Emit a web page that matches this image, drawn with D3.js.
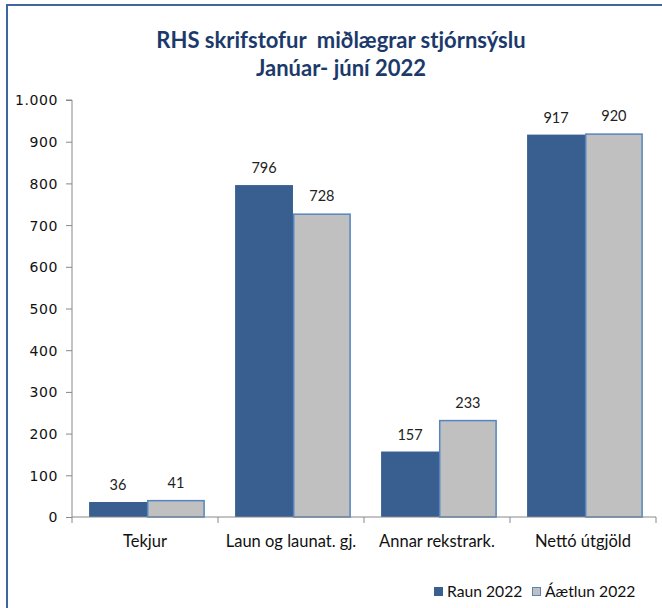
<!DOCTYPE html>
<html><head><meta charset="utf-8">
<script src="https://cdn.jsdelivr.net/npm/d3@7"></script>
<style>body{margin:0;background:#fff;} svg{display:block;}</style>
</head><body>
<svg id="c" width="662" height="608"></svg>
<script>
const categories = ["Tekjur", "Laun og launat. gj.", "Annar rekstrark.", "Nettó útgjöld"];
const seriesNames = ["Raun 2022", "Áætlun 2022"];
const raun = [36, 796, 157, 917];
const aaetlun = [41, 728, 233, 920];
const yTicks = [0, 100, 200, 300, 400, 500, 600, 700, 800, 900, 1000];
const titleLines = ["RHS skrifstofur  miðlægrar stjórnsýslu", "Janúar- júní 2022"];

(function(){
const svg = d3.select("#c");
const colors = {"Raun 2022": "#385f90", "Áætlun 2022": "#c0c0c0"};
const strokes = {"Raun 2022": "#385f90", "Áætlun 2022": "#5585c0"};

// outer border
svg.append("rect").attr("x", 7).attr("y", 5).attr("width", 700).attr("height", 700)
  .attr("fill", "none").attr("stroke", "#3d679c").attr("stroke-width", 2);

// title
svg.append("text").attr("x", 341).attr("y", 48).attr("text-anchor", "middle")
  .attr("font-family", "Lato").attr("font-weight", "bold").attr("font-size", 22)
  .attr("fill", "#1b3a6b").style("white-space", "pre").text(titleLines[0]);
svg.append("text").attr("x", 341).attr("y", 76).attr("text-anchor", "middle")
  .attr("font-family", "Lato").attr("font-weight", "bold").attr("font-size", 22)
  .attr("fill", "#1b3a6b").text(titleLines[1]);

const pl = 72, pr = 656, pt = 100, pb = 517;
const y = d3.scaleLinear().domain([0, 1000]).range([pb, pt]);
const x0 = d3.scaleBand().domain(categories).range([pl, pr]).paddingInner(0).paddingOuter(0);
const bw = x0.bandwidth();
const x1 = d3.scaleBand().domain(seriesNames).range([bw * 0.117, bw * 0.91]).padding(0);

const data = categories.map((c, i) => ({cat: c, vals: [
  {s: seriesNames[0], v: raun[i]}, {s: seriesNames[1], v: aaetlun[i]}]}));

const g = svg.append("g");
const groups = g.selectAll("g.grp").data(data).join("g")
  .attr("transform", d => `translate(${x0(d.cat)},0)`);
groups.selectAll("rect").data(d => d.vals).join("rect")
  .attr("x", d => x1(d.s) + (d.s === seriesNames[1] ? 0.75 : 0))
  .attr("width", d => x1.bandwidth() - (d.s === seriesNames[1] ? 1.5 : 0))
  .attr("y", d => y(d.v) + (d.s === seriesNames[1] ? 0.75 : 0))
  .attr("height", d => pb - y(d.v) - (d.s === seriesNames[1] ? 0.75 : 0))
  .attr("fill", d => colors[d.s])
  .attr("stroke", d => d.s === seriesNames[1] ? strokes[d.s] : "none")
  .attr("stroke-width", 1.5);
groups.selectAll("text").data(d => d.vals).join("text")
  .attr("x", d => x1(d.s) + x1.bandwidth() / 2)
  .attr("y", d => y(d.v) - 12)
  .attr("text-anchor", "middle")
  .attr("font-family", "Lato").attr("font-size", 14.5).attr("fill", "#222")
  .text(d => d.v);

// y axis
const yAxis = d3.axisLeft(y).tickValues(yTicks).tickSize(6).tickPadding(8)
  .tickFormat(d => d3.format(",")(d).replace(/,/g, "."));
const ya = svg.append("g").attr("transform", `translate(${pl},0)`).call(yAxis);
ya.select(".domain").attr("stroke", "#888").attr("d", `M-6,${pt}H0V${pb}`);
ya.selectAll(".tick line").attr("stroke", "#888");
ya.selectAll(".tick text").attr("font-family", "DejaVu Sans").attr("font-size", 14)
  .attr("letter-spacing", 0.6).attr("fill", "#111").attr("dy", "0.35em");

// x axis
const xa = svg.append("g").attr("transform", `translate(0,${pb})`);
xa.append("line").attr("x1", pl).attr("x2", pr).attr("y1", 0).attr("y2", 0).attr("stroke", "#888");
const bounds = categories.map(c => x0(c)).concat([pr]);
xa.selectAll("line.tk").data(bounds).join("line").attr("class", "tk")
  .attr("x1", d => d).attr("x2", d => d).attr("y1", 0).attr("y2", 6).attr("stroke", "#888");
xa.selectAll("text").data(categories).join("text")
  .attr("x", d => x0(d) + bw / 2).attr("y", 30)
  .attr("text-anchor", "middle").attr("font-family", "Lato").attr("font-size", 16.5)
  .attr("fill", "#111").text(d => d);

// legend
const legend = svg.append("g");
const legX = [434, 532];
seriesNames.forEach((s, i) => {
  legend.append("rect").attr("x", legX[i] + (i ? 0.5 : 0)).attr("y", 587 + (i ? 0.5 : 0))
    .attr("width", 9 - (i ? 1 : 0)).attr("height", 9 - (i ? 1 : 0))
    .attr("fill", colors[s]).attr("stroke", i ? strokes[s] : "none").attr("stroke-width", 1);
  legend.append("text").attr("x", legX[i] + 13).attr("y", 597)
    .attr("font-family", "Lato").attr("font-size", 15.7).attr("fill", "#111").text(s);
});
})();
</script>
</body></html>
